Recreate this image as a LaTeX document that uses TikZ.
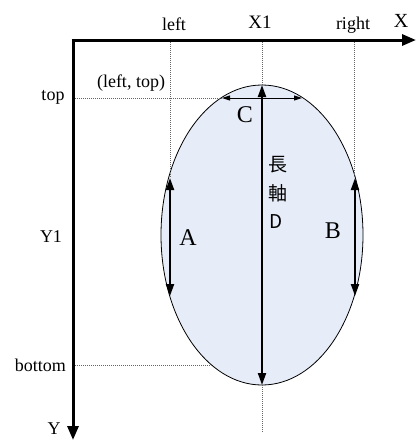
\documentclass[tikz,border=0pt]{standalone}
\usepackage{fontspec}
\setmainfont{Liberation Serif}
\newfontfamily\cjk{Noto Sans CJK TC}
\usetikzlibrary{arrows.meta}
\definecolor{ellfill}{RGB}{230,236,248}
\begin{document}
\begin{tikzpicture}[x=1pt,y=-1pt,
  axis/.style={line width=3pt,-{Triangle[length=14pt,width=11pt]}},
  guide/.style={line width=0.8pt,gray!80!black,dash pattern=on 1pt off 1pt},
  dbl/.style={line width=2pt,{Triangle[length=12pt,width=8pt]}-{Triangle[length=12pt,width=8pt]}},
  thin dbl/.style={line width=1pt,{Triangle[length=8pt,width=5pt]}-{Triangle[length=8pt,width=5pt]}},
  lbl/.style={font=\fontsize{18}{20}\selectfont,inner sep=0pt},
  big/.style={font=\fontsize{24}{26}\selectfont,inner sep=0pt},
  cjklbl/.style={font=\cjk\fontsize{19}{21}\selectfont,inner sep=0pt}]
\useasboundingbox (0,0) rectangle (416,440);
% ellipse
\draw[fill=ellfill,line width=0.8pt] (262,235) ellipse [x radius=101, y radius=150];
% coordinates
\coordinate (O) at (73,40);
\coordinate (Xend) at (416,40);
\coordinate (Yend) at (73,440);
\coordinate (Lt) at (170,40);
\coordinate (Lb) at (170,178);
\coordinate (Rt) at (354,40);
\coordinate (Rb) at (354,178);
\coordinate (Ct) at (262,40);
\coordinate (Etop) at (262,85);
\coordinate (Ebot) at (262,385);
\coordinate (Cend) at (262,432);
\coordinate (Tl) at (75,98);
\coordinate (Tr) at (222,98);
\coordinate (Cr) at (302,98);
\coordinate (Bl) at (75,365);
\coordinate (Br) at (212,365);
\coordinate (A1) at (170,178);
\coordinate (A2) at (170,296);
\coordinate (B1) at (355,178);
\coordinate (B2) at (355,296);
% guides
\draw[guide] (Lt) -- (Lb);
\draw[guide] (Rt) -- (Rb);
\draw[guide] (Ct) -- (Etop);
\draw[guide] (Ebot) -- (Cend);
\draw[guide] (Tl) -- (Tr);
\draw[guide] (Bl) -- (Br);
% axes
\draw[axis] (71.5,40) -- (Xend);
\draw[axis] (73,38.5) -- (Yend);
% arrows
\draw[thin dbl] (Tr) -- (Cr);
\draw[dbl] (Etop) -- (Ebot);
\draw[dbl] (A1) -- (A2);
\draw[dbl] (B1) -- (B2);
% labels
\node[lbl] (left) at (174,24) {left};
\node[lbl,font=\fontsize{19}{21}\selectfont] (x1) at (260,22) {X1};
\node[lbl] (right) at (353,25) {right};
\node[lbl,font=\fontsize{20}{22}\selectfont] (xl) at (401,21) {X};
\node[lbl] (top) at (53,97) {top};
\node[lbl] (y1) at (51,237) {Y1};
\node[lbl,anchor=east] (bottom) at (66,365) {bottom};
\node[lbl] (yl) at (54,429) {Y};
\node[lbl] (lt) at (131,83) {(left, top)};
\node[big] (c) at (245,115) {C};
\node[big] (a) at (188,238) {A};
\node[big] (b) at (333,231) {B};
\node[cjklbl] (ch1) at (278,165) {長};
\node[cjklbl] (ch2) at (278,193) {軸};
\node[cjklbl] (d) at (276,222) {D};
\end{tikzpicture}
\end{document}
